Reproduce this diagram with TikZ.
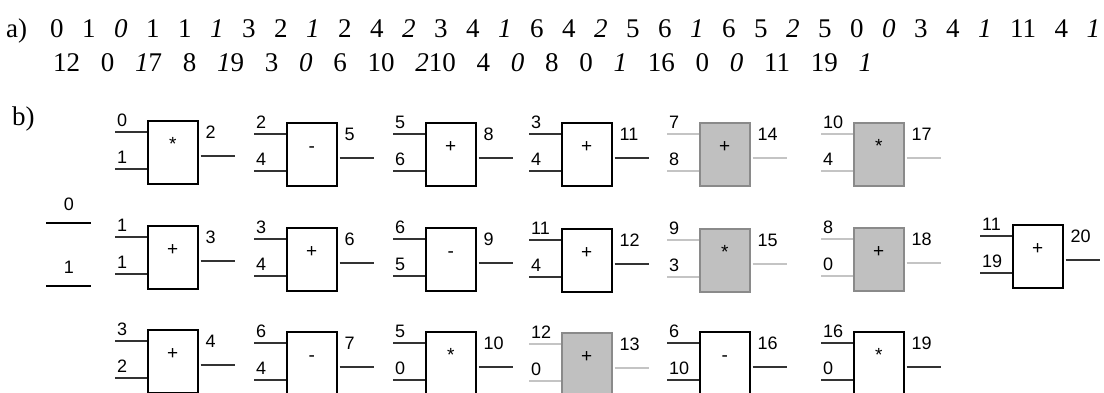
\documentclass[tikz,border=0pt]{standalone}
\usepackage{fontspec}
\setmainfont{Liberation Serif}
\newfontfamily\gatefont{Liberation Sans}

\definecolor{wiredark}{HTML}{333333}
\definecolor{hotfill}{HTML}{C0C0C0}
\definecolor{hotedge}{HTML}{8A8A8A}
\definecolor{hotwirec}{HTML}{C4C4C4}

% one operation block: name, x, y (top left), kind (white/hot), in1, in2, op, out
\newcommand\opgate[8]{%
  \node[#4box] (#1) at (#2,#3) {};
  \node[opsign] (#1-op) at ([yshift=-30pt]#1.north) {#7};
  \coordinate (#1-ia) at ([yshift=-12pt]#1.north west);
  \coordinate (#1-ib) at ([yshift=-49pt]#1.north west);
  \coordinate (#1-o)  at ([xshift=2pt,yshift=-36pt]#1.north east);
  \draw[#4wire] (#1-ia) -- ++(-32,0) coordinate (#1-ia-end);
  \draw[#4wire] (#1-ib) -- ++(-32,0) coordinate (#1-ib-end);
  \draw[#4wire] (#1-o) -- ++(34,0) coordinate (#1-o-end);
  \node[pinlabel] (#1-la) at ([xshift=-30pt,yshift=-6.5pt]#1.north west) {#5};
  \node[pinlabel] (#1-lb) at ([xshift=-30pt,yshift=-43.5pt]#1.north west) {#6};
  \node[pinlabel] (#1-lo) at ([xshift=7pt,yshift=-18.5pt]#1.north east) {#8};
}
\def\s{\hfill}

\begin{document}
\begin{tikzpicture}[x=1pt,y=-1pt,
  whitebox/.style={draw=black, line width=1.5pt, fill=white,
    minimum width=50pt, minimum height=63pt, inner sep=0pt, anchor=north west},
  hotbox/.style={whitebox, draw=hotedge, fill=hotfill},
  whitewire/.style={line width=2pt, draw=wiredark},
  hotwire/.style={line width=2pt, draw=hotwirec},
  plainwire/.style={line width=1.6pt, draw=black},
  pinlabel/.style={font=\gatefont\fontsize{18}{18}\selectfont, inner sep=0pt, anchor=base west},
  opsign/.style={font=\gatefont\fontsize{19}{19}\selectfont, inner sep=0pt, anchor=base},
  seqtext/.style={font=\fontsize{27}{32}\selectfont, inner sep=0pt, anchor=base west}]
\useasboundingbox (0,0) rectangle (1104,392);
\clip (0,0) rectangle (1104,392);

% part a): the encoded sequence
\node[seqtext] (la) at (6,37) {a)};
\node[seqtext] (seq1) at (50,37) {\hbox to 1050pt{0\s 1\s \textit{0}\s 1\s 1\s \textit{1}\s 3\s 2\s \textit{1}\s 2\s 4\s \textit{2}\s 3\s 4\s \textit{1}\s 6\s 4\s \textit{2}\s 5\s 6\s \textit{1}\s 6\s 5\s \textit{2}\s 5\s 0\s \textit{0}\s 3\s 4\s \textit{1}\s 11\s 4\s \textit{1}}};
\node[seqtext] (seq2) at (53,71) {\hbox to 819pt{12\s 0\s \textit{1}7\s 8\s \textit{1}9\s 3\s \textit{0}\s 6\s 10\s \textit{2}10\s 4\s \textit{0}\s 8\s 0\s \textit{1}\s 16\s 0\s \textit{0}\s 11\s 19\s \textit{1}}};

% part b): the network of blocks
\node[seqtext] (lb) at (12,125) {b)};

% primary inputs
\coordinate (in0a) at (46,223); \coordinate (in0b) at (91,223);
\coordinate (in1a) at (46,286); \coordinate (in1b) at (91,286);
\draw[plainwire] (in0a) -- (in0b);
\draw[plainwire] (in1a) -- (in1b);
\node[pinlabel, anchor=base] (v0) at (69,210.5) {0};
\node[pinlabel, anchor=base] (v1) at (69,273.5) {1};

% first row
\opgate{g2}{147}{120}{white}{0}{1}{*}{2}
\opgate{g5}{286}{122}{white}{2}{4}{-}{5}
\opgate{g8}{425}{122}{white}{5}{6}{+}{8}
\opgate{g11}{561}{122}{white}{3}{4}{+}{11}
\opgate{g14}{699}{122}{hot}{7}{8}{+}{14}
\opgate{g17}{853}{122}{hot}{10}{4}{*}{17}

% second row
\opgate{g3}{147}{225}{white}{1}{1}{+}{3}
\opgate{g6}{286}{227}{white}{3}{4}{+}{6}
\opgate{g9}{425}{227}{white}{6}{5}{-}{9}
\opgate{g12}{561}{228}{white}{11}{4}{+}{12}
\opgate{g15}{699}{228}{hot}{9}{3}{*}{15}
\opgate{g18}{853}{227}{hot}{8}{0}{+}{18}
\opgate{g20}{1012}{224}{white}{11}{19}{+}{20}

% third row
\opgate{g4}{147}{329}{white}{3}{2}{+}{4}
\opgate{g7}{286}{331}{white}{6}{4}{-}{7}
\opgate{g10}{425}{331}{white}{5}{0}{*}{10}
\opgate{g13}{561}{332}{hot}{12}{0}{+}{13}
\opgate{g16}{699}{331}{white}{6}{10}{-}{16}
\opgate{g19}{853}{331}{white}{16}{0}{*}{19}
\end{tikzpicture}
\end{document}
